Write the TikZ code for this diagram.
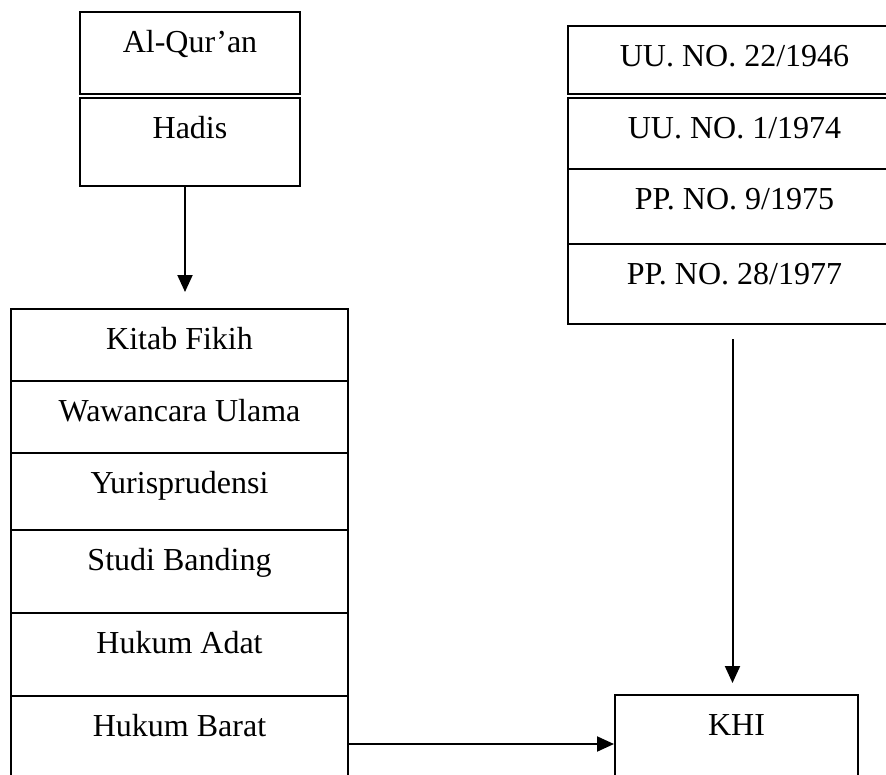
\documentclass[tikz,border=0pt]{standalone}
\usepackage{fontspec}
\setmainfont{Liberation Serif}
\usetikzlibrary{arrows.meta}

\tikzset{
  cell/.style={draw, line width=2pt, inner sep=0pt, anchor=north west, text height=40pt},
  arr/.style={line width=2pt, -{Triangle[length=17pt,width=15pt]}}
}

\begin{document}
\begin{tikzpicture}[x=1pt, y=-1pt, font=\fontsize{32}{38}\selectfont]

    \useasboundingbox (0,0) rectangle (886,774);
    \clip (0,0) rectangle (886,774);

    % sumber pokok
    \node[cell, minimum width=220pt, text depth=42pt] (quran) at (79,11) {Al-Qur'an};
    \node[cell, minimum width=220pt, text depth=48pt] (hadis) at (79,97) {Hadis};

    % peraturan perundang-undangan
    \node[cell, minimum width=333pt, text depth=28pt] (uu22) at (567,25) {UU. NO. 22/1946};
    \node[cell, minimum width=333pt, text depth=31pt] (uu1) at (567,97) {UU. NO. 1/1974};
    \node[cell, minimum width=333pt, text depth=35pt] (pp9) at (567,168) {PP. NO. 9/1975};
    \node[cell, minimum width=333pt, text depth=40pt] (pp28) at (567,243) {PP. NO. 28/1977};

    % bahan kajian
    \node[cell, minimum width=337pt, text depth=32pt] (kitab) at (10,308) {Kitab Fikih};
    \node[cell, minimum width=337pt, text depth=32pt] (ulama) at (10,380) {Wawancara Ulama};
    \node[cell, minimum width=337pt, text depth=37pt] (yuris) at (10,452) {Yurisprudensi};
    \node[cell, minimum width=337pt, text depth=43pt] (banding) at (10,529) {Studi Banding};
    \node[cell, minimum width=337pt, text depth=43pt] (adat) at (10,612) {Hukum Adat};
    \node[cell, minimum width=337pt, text depth=56pt] (barat) at (10,695) {Hukum Barat};

    \node[cell, minimum width=243pt, text depth=58pt] (khi) at (614,694) {KHI};

    \draw[arr, shorten >=16pt] ([xshift=-5pt]hadis.south) to ([xshift=-5pt]hadis.south |- kitab.north) ;
    \draw[arr, shorten <=14pt, shorten >=11pt] ([xshift=-4pt]khi.north |- pp28.south) to ([xshift=-4pt]khi.north) ;
    \draw[arr] (barat.east) to (khi.west) ;

\end{tikzpicture}
\end{document}
